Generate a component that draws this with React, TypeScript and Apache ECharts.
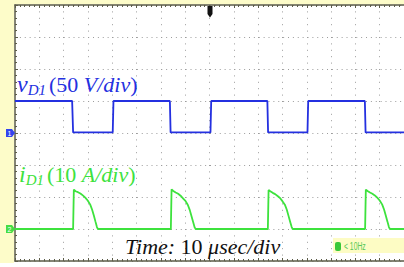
import React, { useEffect, useRef } from "react";
import * as echarts from "echarts";

// Time axis: 10 µs per grid division, 16 divisions visible
const timeMin = 0;
const timeMax = 160;
const timeStep = 10;
// Vertical: 8 divisions, centred at 0
const divMin = -4;
const divMax = 4;

// Channel 1: v_D1, 50 V/div, ground at the centre line
const vScale = 50;
const vOffsetDiv = 0;
const vD1Time = [0, 23.5, 23.9, 40.2, 40.5, 63.7, 64.0, 80.4, 80.7, 103.8, 104.1, 120.3, 120.6, 143.9, 144.2, 160];
const vD1Volts = [50, 50, 1, 1, 50, 50, 1, 1, 50, 50, 1, 1, 50, 50, 1, 1];

// Channel 2: i_D1, 10 A/div, ground three divisions below centre
const iScale = 10;
const iOffsetDiv = -3;
const iD1Time = [
  0,
  23.9, 24.2, 24.9, 25.9, 26.9, 27.9, 28.9, 29.9, 30.9, 31.7, 32.4, 33.1, 33.7, 34.1,
  64.1, 64.4, 65.1, 66.1, 67.1, 68.1, 69.1, 70.1, 71.1, 71.9, 72.6, 73.3, 73.9, 74.3,
  104.0, 104.3, 105.0, 106.0, 107.0, 108.0, 109.0, 110.0, 111.0, 111.8, 112.5, 113.2, 113.8, 114.2,
  144.0, 144.3, 145.0, 146.0, 147.0, 148.0, 149.0, 150.0, 151.0, 151.8, 152.5, 153.2, 153.8, 154.2,
  160,
];
const iD1Amps = [
  0,
  0, 12.3, 11.8, 11.5, 11.1, 10.5, 9.8, 8.9, 7.7, 6.1, 4.3, 2.3, 0.6, 0,
  0, 12.4, 11.9, 11.4, 11.0, 10.4, 9.6, 8.8, 7.5, 5.9, 4.0, 2.1, 0.5, 0,
  0, 12.2, 11.8, 11.3, 10.9, 10.3, 9.7, 8.7, 7.6, 6.0, 4.1, 2.2, 0.6, 0,
  0, 12.3, 11.9, 11.4, 11.0, 10.5, 9.8, 8.9, 7.7, 6.1, 4.2, 2.3, 0.6, 0,
  0,
];

const BLUE = "#2430e0";
const GREEN = "#3de23d";
const BORDER = "#5c5c48";
const DOT = "#9c9c9c";
const YELLOW = "#fdfcc9";
const SERIF = "'Liberation Serif', 'Times New Roman', serif";

export default function App() {
  const ref = useRef<HTMLDivElement>(null);

  useEffect(() => {
    if (!ref.current) return;
    const chart = echarts.init(ref.current, undefined, { renderer: "svg" });

    const vData = vD1Time.map((t, k) => [t, vD1Volts[k] / vScale + vOffsetDiv]);
    const iData = iD1Time.map((t, k) => [t, iD1Amps[k] / iScale + iOffsetDiv]);

    const baseX = {
      type: "value" as const,
      min: timeMin,
      max: timeMax,
      interval: timeStep,
      axisLabel: { show: false },
      axisLine: { show: true, onZero: false, lineStyle: { color: BORDER, width: 1.5 } },
      axisTick: { show: true, inside: true, length: 3, lineStyle: { color: BORDER } },
      minorTick: { show: true, splitNumber: 5, length: 2, lineStyle: { color: BORDER } },
    };

    const labelRich = (fill: string) => ({
      it: { fontFamily: SERIF, fontStyle: "italic", fontSize: 22, lineHeight: 26, fill },
      big: { fontFamily: SERIF, fontStyle: "italic", fontSize: 24, lineHeight: 26, fill },
      sub: { fontFamily: SERIF, fontStyle: "italic", fontSize: 15, lineHeight: 14, verticalAlign: "bottom", padding: [0, 3, 0, 0], fill },
      n: { fontFamily: SERIF, fontSize: 22, lineHeight: 26, fill },
    });

    chart.setOption({
      animation: false,
      backgroundColor: "#ffffff",
      grid: { left: 15, top: 5, width: 390, height: 256, containLabel: false },
      xAxis: [
        {
          ...baseX,
          position: "bottom",
          splitLine: { show: true, lineStyle: { color: DOT, width: 1, type: [1, 5.4] } },
        },
        {
          ...baseX,
          position: "top",
          splitLine: { show: false },
        },
      ],
      yAxis: [
        {
          type: "value",
          min: divMin,
          max: divMax,
          interval: 1,
          position: "left",
          axisLabel: { show: false },
          axisLine: { show: true, onZero: false, lineStyle: { color: BORDER, width: 1.5 } },
          axisTick: { show: true, inside: true, length: 3, lineStyle: { color: BORDER } },
          minorTick: { show: true, splitNumber: 5, length: 2, lineStyle: { color: BORDER } },
          splitLine: { show: true, lineStyle: { color: DOT, width: 1, type: [1, 3.875] } },
        },
      ],
      series: [
        {
          name: "vD1",
          type: "line",
          data: vData,
          showSymbol: false,
          lineStyle: { color: BLUE, width: 1.8 },
          z: 3,
        },
        {
          name: "iD1",
          type: "line",
          data: iData,
          showSymbol: false,
          lineStyle: { color: GREEN, width: 1.8 },
          z: 4,
        },
      ],
      graphic: [
        { type: "rect", z: -1, shape: { x: 0, y: 0, width: 14, height: 263 }, style: { fill: YELLOW } },
        { type: "rect", z: -1, shape: { x: 0, y: 0, width: 404, height: 4.5 }, style: { fill: YELLOW } },
        // trigger marker
        {
          type: "polygon",
          z: 10,
          shape: { points: [[207.5, 6], [212.5, 6], [212.5, 14], [210, 17.5], [207.5, 14]] },
          style: { fill: "#111111" },
        },
        // channel ground markers
        {
          type: "polygon",
          z: 10,
          shape: { points: [[6, 129], [12, 129], [15, 133], [12, 137], [6, 137]] },
          style: { fill: "#3344ee" },
        },
        {
          type: "text",
          z: 11,
          x: 9.5,
          y: 133,
          style: { text: "1", fill: "#ffffff", fontSize: 7, fontFamily: "'Liberation Sans', sans-serif", align: "center", verticalAlign: "middle" },
        },
        {
          type: "polygon",
          z: 10,
          shape: { points: [[6, 225], [12, 225], [15, 229], [12, 233], [6, 233]] },
          style: { fill: "#44dd44" },
        },
        {
          type: "text",
          z: 11,
          x: 9.5,
          y: 229,
          style: { text: "2", fill: "#ffffff", fontSize: 7, fontFamily: "'Liberation Sans', sans-serif", align: "center", verticalAlign: "middle" },
        },
        // labels
        {
          type: "text",
          z: 12,
          x: 17,
          y: 84.3,
          style: {
            text: "{big|v}{sub|D1}{n|(50 }{it|V/div}{n|)}",
            rich: labelRich(BLUE),
            align: "left",
            verticalAlign: "middle",
          },
        },
        {
          type: "text",
          z: 12,
          x: 19,
          y: 174.3,
          style: {
            text: "{big|i}{sub|D1}{n|(10 }{it|A/div}{n|)}",
            rich: labelRich(GREEN),
            align: "left",
            verticalAlign: "middle",
          },
        },
        {
          type: "text",
          z: 12,
          x: 125,
          y: 246.6,
          style: {
            text: "{it|Time:}{n| 10 }{it|μsec/div}",
            rich: labelRich("#111111"),
            align: "left",
            verticalAlign: "middle",
          },
        },
        // bandwidth box
        { type: "rect", z: 12, shape: { x: 333, y: 238, width: 71, height: 15 }, style: { fill: "#fdfcc4" } },
        { type: "rect", z: 13, shape: { x: 335, y: 242, width: 6, height: 9, r: 2 }, style: { fill: "#39c839" } },
        {
          type: "text",
          z: 14,
          x: 344,
          y: 246.5,
          scaleX: 0.68,
          originX: 0,
          originY: 0,
          style: { text: "< 10Hz", fill: "#55c855", fontSize: 10, fontFamily: "'Liberation Sans', sans-serif", align: "left", verticalAlign: "middle" },
        },
      ],
    });

    return () => chart.dispose();
  }, []);

  return (
    <div
      ref={ref}
      style={{ position: "fixed", left: 0, top: 0, width: 404, height: 267, background: "#ffffff" }}
    />
  );
}
